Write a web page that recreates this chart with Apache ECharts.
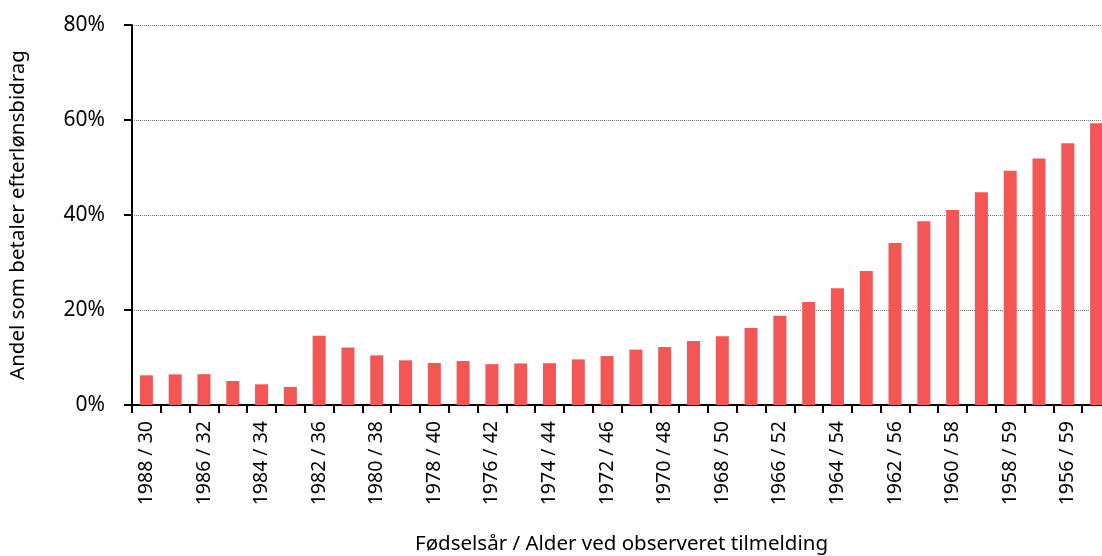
<!DOCTYPE html>
<html>
<head>
<meta charset="utf-8">
<script src="https://cdn.jsdelivr.net/npm/echarts@6/dist/echarts.min.js"></script>
<style>
  html, body { margin: 0; padding: 0; background: #fff; overflow: hidden; }
  #chart { width: 1111px; height: 556px; }
</style>
</head>
<body>
<div id="chart"></div>
<script>
// fødselsår / alder ved observeret tilmelding
var categories = [
  "1988 / 30", "1987 / 31", "1986 / 32", "1985 / 33", "1984 / 34", "1983 / 35",
  "1982 / 36", "1981 / 37", "1980 / 38", "1979 / 39", "1978 / 40", "1977 / 41",
  "1976 / 42", "1975 / 43", "1974 / 44", "1973 / 45", "1972 / 46", "1971 / 47",
  "1970 / 48", "1969 / 49", "1968 / 50", "1967 / 51", "1966 / 52", "1965 / 53",
  "1964 / 54", "1963 / 55", "1962 / 56", "1961 / 57", "1960 / 58", "1959 / 59",
  "1958 / 59", "1957 / 59", "1956 / 59", "1955 / 59"
];
// andel (%) som betaler efterlønsbidrag
var shares = [
  6.25, 6.45, 6.5, 5.05, 4.35, 3.8,
  14.6, 12.1, 10.45, 9.4, 8.85, 9.25,
  8.6, 8.75, 8.8, 9.6, 10.3, 11.65,
  12.2, 13.5, 14.45, 16.2, 18.8, 21.7,
  24.6, 28.2, 34.1, 38.7, 41.05, 44.8,
  49.3, 51.9, 55.1, 59.3
];

var fontFamily = '"Noto Sans", sans-serif';
var chart = echarts.init(document.getElementById("chart"));

chart.setOption({
  animation: false,
  textStyle: { fontFamily: fontFamily, color: "#000" },
  // plot runs a bit past the right edge of the window, like the original
  grid: { left: 132, right: 0, top: 25, bottom: 151, outerBoundsMode: "none" },
  xAxis: {
    type: "category",
    data: categories,
    name: "Fødselsår / Alder ved observeret tilmelding",
    nameLocation: "middle",
    nameGap: 129,
    nameTextStyle: { fontSize: 20.5, color: "#000", fontFamily: fontFamily },
    axisLine: { lineStyle: { color: "#000", width: 2 } },
    axisTick: { show: true, interval: 0, length: 8, lineStyle: { color: "#000", width: 2 } },
    axisLabel: {
      interval: 1,
      rotate: 90,
      margin: 16,
      fontSize: 19.5,
      color: "#000",
      fontFamily: fontFamily
    },
    splitLine: { show: false }
  },
  yAxis: {
    type: "value",
    min: 0,
    max: 80,
    interval: 20,
    name: "Andel som betaler efterlønsbidrag",
    nameLocation: "middle",
    nameGap: 103,
    nameTextStyle: { fontSize: 20.5, color: "#000", fontFamily: fontFamily },
    axisLine: { show: true, lineStyle: { color: "#000", width: 2 } },
    axisTick: { show: true, length: 8, lineStyle: { color: "#000", width: 2 } },
    axisLabel: {
      formatter: "{value}%",
      margin: 27,
      fontSize: 21,
      color: "#000",
      fontFamily: fontFamily,
      padding: [0, 0, 5, 0]
    },
    splitLine: { show: true, lineStyle: { color: "#777", type: "dotted", width: 1 } }
  },
  series: [
    {
      type: "bar",
      data: shares,
      barWidth: 13,
      itemStyle: { color: "#f45555" }
    }
  ]
});
</script>
</body>
</html>
